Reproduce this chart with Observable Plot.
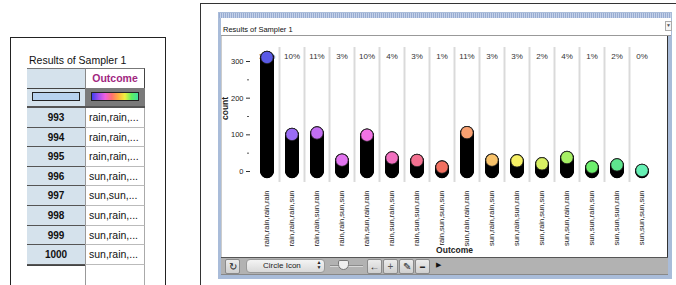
<!DOCTYPE html>
<html><head><meta charset="utf-8">
<script src="https://cdn.jsdelivr.net/npm/d3@7"></script>
<script src="https://cdn.jsdelivr.net/npm/@observablehq/plot@0.6"></script>
<style>
body{margin:0;width:676px;height:285px;overflow:hidden;background:#fff;font-family:"Liberation Sans",Arial,sans-serif;position:relative}
.a{position:absolute;box-sizing:border-box}
.btn{position:absolute;box-sizing:border-box;top:259px;width:15px;height:15px;background:linear-gradient(#ececec,#cfcfcf);border:1px solid #8a8a8a;border-radius:2px;text-align:center;font-size:10px;line-height:13px;color:#222}
</style></head><body>
<div id="left"></div>
<div id="win"></div>
<script>
// ---- data ----
const categories = [
  "rain,rain,rain,rain","rain,rain,rain,sun","rain,rain,sun,rain","rain,rain,sun,sun",
  "rain,sun,rain,rain","rain,sun,rain,sun","rain,sun,sun,rain","rain,sun,sun,sun",
  "sun,rain,rain,rain","sun,rain,rain,sun","sun,rain,sun,rain","sun,rain,sun,sun",
  "sun,sun,rain,rain","sun,sun,rain,sun","sun,sun,sun,rain","sun,sun,sun,sun"
];
const counts = [312, 102, 106, 32, 100, 38, 31, 13, 107, 32, 30, 22, 39, 13, 19, 4];
const topColors = [
  "#5a5ae6","#9a6cf5","#c36ef2","#e274f0","#f273e6","#f270c0","#f37090","#f27060",
  "#f8a070","#f8c26a","#f6f063","#d8f062","#a6f064","#6cef6c","#5ee68e","#66f0b4"
];
const yTicks = [0, 100, 200, 300];
const yMinorTicks = [50, 150, 250];
const tableIds = [993, 994, 995, 996, 997, 998, 999, 1000];
const tableOutcomes = ["rain,rain,...","rain,rain,...","rain,rain,...","sun,rain,...","sun,sun,...","sun,rain,...","sun,rain,...","sun,rain,..."];
const titleText = "Results of Sampler 1";

// ---- left table panel ----
const left = document.getElementById("left");
let h = "";
h += `<div class="a" style="left:10px;top:37px;width:156px;height:260px;border:1px solid #222"></div>`;
h += `<div class="a" style="left:29px;top:54px;font-size:10.5px;color:#111">${titleText}</div>`;
h += `<div class="a" style="left:27px;top:68px;width:58px;height:20px;background:#d5e2ec;border-top:1px solid #777"></div>`;
h += `<div class="a" style="left:85px;top:68px;width:60px;height:20px;background:#fff;border-top:1px solid #777;border-left:1px solid #888;border-right:1px solid #444;font-size:10.5px;font-weight:bold;color:#a1277f;text-align:center;line-height:19px">Outcome</div>`;
h += `<div class="a" style="left:27px;top:88px;width:58px;height:20px;background:#d5e2ec;border-top:1px solid #444;border-bottom:2px solid #555"></div>`;
h += `<div class="a" style="left:32px;top:92px;width:48px;height:9px;background:#b7d2ef;border:1px solid #222"></div>`;
h += `<div class="a" style="left:85px;top:88px;width:60px;height:20px;background:#7a7a7a;border-bottom:2px solid #555"></div>`;
h += `<div class="a" style="left:91px;top:92px;width:48px;height:9px;border:1px solid #222;background:linear-gradient(90deg,#4040f0,#a050f0,#f060e0,#ff7070,#ffb040,#f0f040,#60f060,#40e0a0)"></div>`;
tableIds.forEach((id, i) => {
  const top = 108 + i * 19.6;
  h += `<div class="a" style="left:27px;top:${top}px;width:58px;height:19.6px;background:#d5e2ec;border-bottom:1px solid #555;font-size:10px;font-weight:bold;color:#111;text-align:center;line-height:19px">${id}</div>`;
  h += `<div class="a" style="left:85px;top:${top}px;width:60px;height:19.6px;background:#fff;border-left:1px solid #999;border-right:1px solid #aaa;border-bottom:1px solid #bbb;font-size:10.5px;color:#111;padding-left:3px;line-height:19px;white-space:nowrap">${tableOutcomes[i]}</div>`;
});
h += `<div class="a" style="left:27px;top:265px;width:58px;height:1px;background:#444"></div>`;
h += `<div class="a" style="left:85px;top:265px;width:60px;height:20px;border-left:1px solid #999;border-right:1px solid #aaa"></div>`;
left.innerHTML = h;

// ---- right window chrome ----
const win = document.getElementById("win");
let w = "";
w += `<div class="a" style="left:200px;top:3px;width:480px;height:290px;border-left:1px solid #333;border-top:1px solid #333"></div>`;
w += `<div class="a" style="left:218px;top:12px;width:454px;height:267px;background:#a9bcd9"></div>`;
w += `<div class="a" style="left:219px;top:13px;width:452px;height:5px;background:repeating-linear-gradient(90deg,#98acd2 0 1px,#c4d1e8 1px 2px)"></div>`;
w += `<div class="a" style="left:221px;top:18px;width:450px;height:18px;background:#fff;border-bottom:1px solid #999"></div>`;
w += `<div class="a" style="left:223px;top:25px;font-size:7.5px;color:#111">${titleText}</div>`;
w += `<div class="a" style="left:665px;top:21px;width:7px;height:10px;border:1px solid #aaa;background:#f6f6f6;font-size:5px;line-height:7px;text-align:center;color:#555">▼</div>`;
w += `<div class="a" style="left:221px;top:36px;width:447px;height:221px;background:#fff;border-left:1px solid #ccc;border-right:1px solid #333"></div>`;
w += `<div id="plot" class="a" style="left:221px;top:36px;width:446px;height:220px"></div>`;
w += `<div class="a" style="left:221px;top:257px;width:447px;height:18px;background:#b2b2b2;border-top:1px solid #555;border-bottom:1px solid #888"></div>`;
w += `<div class="btn" style="left:225px;width:15px">↻</div>`;
w += `<div class="a" style="left:246px;top:259px;width:79px;height:14px;background:linear-gradient(#f4f4f4,#d9d9d9);border:1px solid #999;border-radius:4px;font-size:8px;line-height:12px;color:#222;padding-left:16px">Circle Icon</div>`;
w += `<div class="a" style="left:316px;top:260px;width:6px;height:12px;font-size:5px;line-height:5px;color:#222;text-align:center">▲<br>▼</div>`;
w += `<div class="a" style="left:330px;top:265px;width:33px;height:2px;background:#8c8c8c;border-bottom:1px solid #d8d8d8"></div>`;
w += `<div class="a" style="left:338px;top:260px;width:11px;height:10px;background:#eee;border:1px solid #777;border-radius:2px 2px 6px 6px"></div>`;
w += `<div class="btn" style="left:367px;font-weight:bold">←</div>`;
w += `<div class="btn" style="left:383px;color:#555">+</div>`;
w += `<div class="btn" style="left:399px">✎</div>`;
w += `<div class="btn" style="left:415px;font-size:5px">▬</div>`;
w += `<div class="a" style="left:436px;top:261px;font-size:7px;color:#111">▶</div>`;
win.innerHTML = w;

// ---- chart ----
const total = d3.sum(counts);
const dots = [];
categories.forEach((c, k) => {
  for (let i = 0; i < counts[k]; i++) dots.push({outcome: c, stack: i, top: i === counts[k] - 1, color: topColors[k]});
});
const topDots = dots.filter(d => d.top);
const pct = categories.map((c, k) => ({outcome: c, label: Math.round(counts[k] / total * 100) + "%"}));

const chart = Plot.plot({
  width: 446,
  height: 220,
  marginLeft: 33,
  marginRight: 13,
  marginTop: 11,
  marginBottom: 74,
  style: {background: "transparent", fontFamily: "Liberation Sans, Arial, sans-serif", fontSize: "8px", color: "#222", overflow: "visible"},
  x: {type: "band", domain: categories, padding: 0},
  y: {domain: [-30, 338.2]},
  marks: [
    Plot.ruleX(categories.slice(0, -1), {x: d => d, dx: 12.5, stroke: "#dadada", strokeWidth: 2}),
    Plot.axisY({ticks: yTicks, tickSize: 4, tickPadding: 3, dx: -4, label: null, fontSize: 7.5, stroke: "#333"}),
    Plot.axisY({ticks: yMinorTicks, tickSize: 2, tickFormat: () => "", dx: -5, label: null, stroke: "#555"}),
    Plot.axisX({tickSize: 0, tickPadding: 8, tickRotate: -90, label: null, fontSize: 7.5}),
    Plot.text(["count"], {frameAnchor: "left", dx: -29.5, dy: 5, rotate: -90, fontWeight: "bold", fontSize: 8.5}),
    Plot.text(["Outcome"], {frameAnchor: "bottom", dy: 70, fontWeight: "bold", fontSize: 8.5}),
    Plot.text(pct, {x: "outcome", text: "label", frameAnchor: "top", dy: 6, fontSize: 8, fill: "#333"}),
    Plot.dot(dots, {x: "outcome", y: "stack", r: 6, fill: "#000", stroke: "#000"}),
    Plot.dot(topDots, {x: "outcome", y: "stack", r: 6.2, fill: "color", stroke: "#222", strokeWidth: 0.8})
  ]
});
document.getElementById("plot").appendChild(chart);
</script>
</body></html>
